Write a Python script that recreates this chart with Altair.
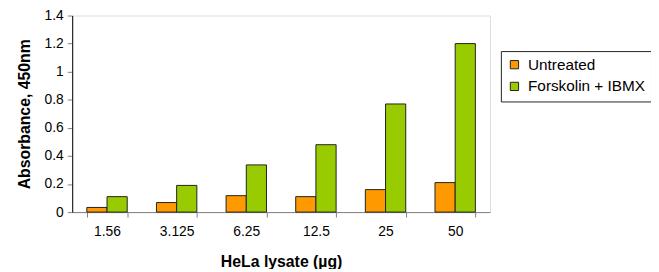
import altair as alt
import pandas as pd

doses = ["1.56", "3.125", "6.25", "12.5", "25", "50"]
series_names = ["Untreated", "Forskolin + IBMX"]
untreated = [0.033, 0.068, 0.117, 0.11, 0.16, 0.21]
forskolin = [0.11, 0.19, 0.336, 0.48, 0.77, 1.2]
colors = ["#FF9900", "#99CC00"]

rows = []
for d, u, f in zip(doses, untreated, forskolin):
    rows.append({"dose": d, "series": series_names[0], "value": u})
    rows.append({"dose": d, "series": series_names[1], "value": f})
df = pd.DataFrame(rows)

FONT = "Liberation Sans"

chart = alt.Chart(df).mark_bar(stroke="#222222", strokeWidth=1).encode(
    x=alt.X("dose:N", sort=doses, title="HeLa lysate (µg)",
            scale=alt.Scale(paddingInner=0.42, paddingOuter=0.21),
            axis=alt.Axis(labelAngle=0, tickBand="extent", domainColor="#808080",
                          tickColor="#808080", tickSize=5, labelFontSize=14,
                          labelPadding=8, titlePadding=15, titleFontSize=16,
                          titleFontWeight="bold", labelFont=FONT, titleFont=FONT,
                          labelColor="black", titleColor="black")),
    xOffset=alt.XOffset("series:N", sort=series_names,
                        scale=alt.Scale(paddingInner=0, paddingOuter=0)),
    y=alt.Y("value:Q", title="Absorbance, 450nm",
            scale=alt.Scale(domain=[0, 1.4], nice=False),
            axis=alt.Axis(values=[0, 0.2, 0.4, 0.6, 0.8, 1.0, 1.2, 1.4],
                          grid=False, domainColor="black", tickColor="#808080",
                          tickSize=5, labelFontSize=14, labelPadding=4,
                          titlePadding=12, titleFontSize=16, titleFontWeight="bold",
                          labelFont=FONT, titleFont=FONT, labelColor="black",
                          titleColor="black", labelExpr="format(datum.value, '.1~f')")),
    color=alt.Color("series:N", sort=series_names,
                    scale=alt.Scale(domain=series_names, range=colors),
                    legend=alt.Legend(title=None, orient="none", legendX=434, legendY=36,
                                      strokeColor="#222222", padding=6,
                                      symbolType="square", symbolSize=70,
                                      symbolStrokeColor="#222222", symbolStrokeWidth=1,
                                      labelFontSize=15.5, labelFont=FONT,
                                      labelColor="black", rowPadding=5,
                                      labelOffset=6, symbolOpacity=1)),
).properties(
    width=423, height=199,
    padding={"left": 65, "top": 6, "right": 163, "bottom": 56},
    autosize=alt.AutoSizeParams(type="none"),
).configure_view(stroke=None).configure(background="white")

chart.save("out.html", embed_options={"renderer": "svg", "actions": False})
